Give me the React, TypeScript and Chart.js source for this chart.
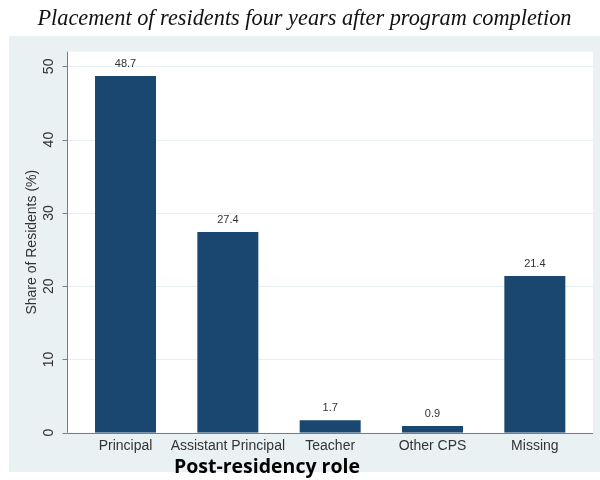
import React, { useEffect, useRef } from "react";
import { Chart, registerables } from "chart.js";

Chart.register(...registerables);

const categories = ["Principal", "Assistant Principal", "Teacher", "Other CPS", "Missing"];
const shares = [48.7, 27.4, 1.7, 0.9, 21.4];
const yTickValues = [0, 10, 20, 30, 40, 50];
const yMax = 52;
const chartTitle = "Placement of residents four years after program completion";
const xTitle = "Post-residency role";
const yTitle = "Share of Residents (%)";

const BG = "#eaf1f3";
const GRID = "#e6eef0";
const BAR = "#1a476f";
const AXIS = "#7c7c7c";
const TEXT = "#333333";
const SANS = "'Liberation Sans', Arial, sans-serif";

const decor = {
  id: "decor",
  beforeDraw(chart: any) {
    const { ctx, chartArea: a, width, height } = chart;
    ctx.save();
    ctx.fillStyle = "#ffffff";
    ctx.fillRect(0, 0, width, height);
    ctx.fillStyle = BG;
    ctx.fillRect(9, 36, width - 9, 436);
    const x0 = a.left - 7.35;
    const x1 = a.right + 7;
    ctx.fillStyle = "#ffffff";
    ctx.fillRect(x0, a.top, x1 - x0, a.bottom - a.top);
    const ys = chart.scales.y;
    ctx.strokeStyle = GRID;
    ctx.lineWidth = 1;
    yTickValues.forEach((v) => {
      if (v === 0) return;
      const py = Math.round(ys.getPixelForValue(v)) + 0.5;
      ctx.beginPath();
      ctx.moveTo(x0, py);
      ctx.lineTo(x1, py);
      ctx.stroke();
    });
    ctx.restore();
  },
  afterDatasetsDraw(chart: any) {
    const { ctx, chartArea: a } = chart;
    const ys = chart.scales.y;
    const x0 = Math.round(a.left - 7.35) + 0.5;
    const x1 = a.right + 7;
    ctx.save();
    ctx.strokeStyle = AXIS;
    ctx.lineWidth = 1;
    ctx.beginPath();
    ctx.moveTo(x0, a.top);
    ctx.lineTo(x0, a.bottom);
    const by = Math.round(a.bottom) + 0.5;
    ctx.moveTo(x0, by);
    ctx.lineTo(x1, by);
    yTickValues.forEach((v) => {
      const py = Math.round(ys.getPixelForValue(v)) + 0.5;
      ctx.moveTo(x0 - 5, py);
      ctx.lineTo(x0, py);
    });
    ctx.stroke();
    // value labels
    const meta = chart.getDatasetMeta(0);
    ctx.fillStyle = TEXT;
    ctx.font = `11px ${SANS}`;
    ctx.textAlign = "center";
    ctx.textBaseline = "middle";
    meta.data.forEach((el: any, i: number) => {
      ctx.fillText(shares[i].toFixed(1), el.x, el.y - 12);
    });
    ctx.restore();
  },
  afterDraw(chart: any) {
    const { ctx } = chart;
    ctx.save();
    ctx.fillStyle = "#111111";
    ctx.font = "italic 22.3px 'Liberation Serif', 'DejaVu Serif', serif";
    ctx.textAlign = "center";
    ctx.textBaseline = "alphabetic";
    ctx.fillText(chartTitle, 304.5, 25);
    ctx.fillStyle = "#000000";
    ctx.font = "bold 19.5px 'Open Sans', Lato, sans-serif";
    ctx.fillText(xTitle, 267, 473);
    ctx.restore();
  },
};

export default function App() {
  const ref = useRef<HTMLCanvasElement | null>(null);
  useEffect(() => {
    if (!ref.current) return;
    const chart = new Chart(ref.current, {
      type: "bar",
      data: {
        labels: categories,
        datasets: [
          {
            data: shares,
            backgroundColor: BAR,
            borderColor: BAR,
            borderWidth: 0,
            categoryPercentage: 1,
            barPercentage: 0.596,
          },
        ],
      },
      options: {
        responsive: false,
        animation: false,
        layout: { padding: { left: 0, right: 14, top: 51.7, bottom: 0 } },
        plugins: {
          legend: { display: false },
          tooltip: { enabled: false },
          title: { display: false },
        },
        scales: {
          x: {
            grid: { display: false },
            border: { display: false },
            ticks: {
              color: TEXT,
              font: { family: SANS, size: 14 },
              padding: -3,
              minRotation: 0,
              maxRotation: 0,
              autoSkip: false,
            },
            afterFit: (s: any) => {
              s.height = 47.3;
            },
          },
          y: {
            min: 0,
            max: yMax,
            grid: { display: false },
            border: { display: false },
            afterBuildTicks: (s: any) => {
              s.ticks = yTickValues.map((v) => ({ value: v }));
            },
            ticks: {
              color: TEXT,
              font: { family: SANS, size: 14 },
              minRotation: 90,
              maxRotation: 90,
              crossAlign: "center",
              padding: 9.5,
            },
            title: {
              display: true,
              text: yTitle,
              color: TEXT,
              font: { family: SANS, size: 14 },
              padding: { top: 23.6, bottom: 0 },
            },
            afterFit: (s: any) => {
              s.width = 74.35;
            },
          },
        },
      },
      plugins: [decor],
    });
    return () => chart.destroy();
  }, []);
  return (
    <div style={{ position: "absolute", left: 0, top: 0, width: 600, height: 480 }}>
      <canvas ref={ref} width={600} height={480} />
    </div>
  );
}
